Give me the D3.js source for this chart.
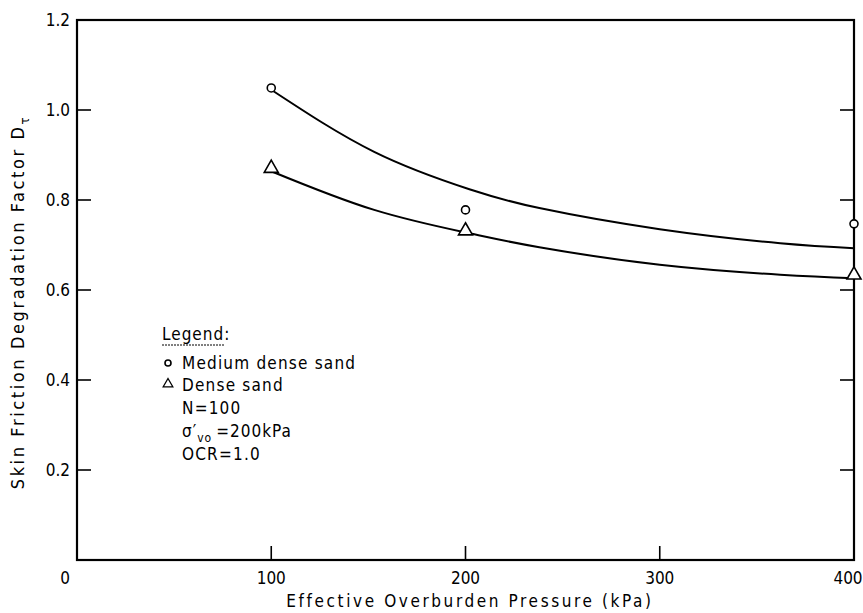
<!DOCTYPE html>
<html>
<head>
  <meta charset="utf-8">
  <title>Skin friction degradation factor</title>
  <script src="https://d3js.org/d3.v7.min.js"></script>
  <style>
    body { margin: 0; padding: 0; background: #fff; }
    text { font-family: "DejaVu Sans Condensed", "DejaVu Sans", sans-serif; fill: #000; }
  </style>
</head>
<body>
  <svg id="chart" width="863" height="613"></svg>
  <script>
    // measured points
    var pressure = [100, 200, 400];
    var mediumDense = [1.049, 0.778, 0.747];
    var dense = [0.866, 0.727, 0.629];

    // fitted curves
    var curveX = [100, 153, 202, 238, 300, 362, 400];
    var mediumCurve = [1.045, 0.907, 0.824, 0.782, 0.735, 0.704, 0.693];
    var denseCurve = [0.864, 0.778, 0.726, 0.695, 0.656, 0.634, 0.626];

    var xTicks = [0, 100, 200, 300, 400];
    var yTicks = [0.2, 0.4, 0.6, 0.8, 1.0, 1.2];

    var legendLines = ["Medium dense sand", "Dense sand", "N=100", "OCR=1.0"];

    var svg = d3.select("#chart");
    var plotL = 77, plotR = 854, plotT = 20, plotB = 560;

    var x = d3.scaleLinear().domain([0, 400]).range([plotL, plotR]);
    var y = d3.scaleLinear().domain([0, 1.2]).range([plotB, plotT]);

    //frame
    svg.append("rect")
      .attr("x", plotL).attr("y", plotT)
      .attr("width", plotR - plotL).attr("height", plotB - plotT)
      .attr("fill", "none").attr("stroke", "#000").attr("stroke-width", 2.2);

    //inward ticks
    var tickLen = 14;
    svg.selectAll(".xtick")
      .data(xTicks.filter(function (d) { return d > 0 && d < 400; }))
      .join("line")
      .attr("class", "xtick")
      .attr("x1", d => x(d)).attr("x2", d => x(d))
      .attr("y1", plotB).attr("y2", plotB - tickLen)
      .attr("stroke", "#000").attr("stroke-width", 1.6);

    var innerY = yTicks.filter(function (d) { return d < 1.2; });
    svg.selectAll(".ytickl")
      .data(innerY)
      .join("line")
      .attr("class", "ytickl")
      .attr("x1", plotL).attr("x2", plotL + tickLen)
      .attr("y1", d => y(d)).attr("y2", d => y(d))
      .attr("stroke", "#000").attr("stroke-width", 1.6);
    svg.selectAll(".ytickr")
      .data(innerY)
      .join("line")
      .attr("class", "ytickr")
      .attr("x1", plotR).attr("x2", plotR - tickLen)
      .attr("y1", d => y(d)).attr("y2", d => y(d))
      .attr("stroke", "#000").attr("stroke-width", 1.6);

    //tick labels
    svg.selectAll(".xlab")
      .data(xTicks)
      .join("text")
      .attr("class", "xlab")
      .attr("x", d => x(d) + (d === 0 ? -12 : d === 400 ? -6 : 0))
      .attr("y", plotB + 24)
      .attr("text-anchor", "middle")
      .attr("font-size", 17)
      .text(d => d);

    svg.selectAll(".ylab")
      .data(yTicks)
      .join("text")
      .attr("class", "ylab")
      .attr("x", plotL - 7)
      .attr("y", d => y(d) + 6)
      .attr("text-anchor", "end")
      .attr("font-size", 17)
      .text(d => d.toFixed(1));

    //axis titles
    svg.append("text")
      .attr("x", 470)
      .attr("y", 607)
      .attr("text-anchor", "middle")
      .attr("font-size", 17)
      .attr("letter-spacing", 2.6)
      .text("Effective Overburden Pressure (kPa)");

    var yt = svg.append("text")
      .attr("transform", "translate(24,302) rotate(-90)")
      .attr("text-anchor", "middle")
      .attr("font-size", 18)
      .attr("letter-spacing", 2.6);
    yt.append("tspan").text("Skin Friction Degradation Factor D");
    yt.append("tspan").attr("dy", 5).attr("font-size", 13).text("τ");

    //curves
    var line = d3.line()
      .x(function (d) { return x(d[0]); })
      .y(function (d) { return y(d[1]); })
      .curve(d3.curveNatural);

    [mediumCurve, denseCurve].forEach(function (c) {
      svg.append("path")
        .attr("d", line(curveX.map(function (v, i) { return [v, c[i]]; })))
        .attr("fill", "none")
        .attr("stroke", "#000")
        .attr("stroke-width", 2);
    });

    //points
    svg.selectAll(".circ")
      .data(pressure)
      .join("circle")
      .attr("class", "circ")
      .attr("cx", d => x(d))
      .attr("cy", (d, i) => y(mediumDense[i]))
      .attr("r", 4)
      .attr("fill", "#fff")
      .attr("stroke", "#000")
      .attr("stroke-width", 1.6);

    var tri = d3.symbol().type(d3.symbolTriangle).size(85);
    svg.selectAll(".tri")
      .data(pressure)
      .join("path")
      .attr("class", "tri")
      .attr("transform", (d, i) => "translate(" + x(d) + "," + (y(dense[i]) - 2) + ")")
      .attr("d", tri)
      .attr("fill", "#fff")
      .attr("stroke", "#000")
      .attr("stroke-width", 1.6);

    //legend
    var lg = svg.append("g").attr("transform", "translate(162,0)");
    lg.append("text")
      .attr("x", 0).attr("y", 340)
      .attr("font-size", 17)
      .attr("letter-spacing", 1)
      .text("Legend:");
    lg.append("line")
      .attr("x1", 0).attr("x2", 62)
      .attr("y1", 345).attr("y2", 345)
      .attr("stroke", "#000").attr("stroke-width", 1)
      .attr("stroke-dasharray", "2,1");

    lg.append("circle")
      .attr("cx", 6).attr("cy", 363)
      .attr("r", 3)
      .attr("fill", "none").attr("stroke", "#000").attr("stroke-width", 1.6);
    lg.append("path")
      .attr("transform", "translate(6,384)")
      .attr("d", d3.symbol().type(d3.symbolTriangle).size(40))
      .attr("fill", "none").attr("stroke", "#000").attr("stroke-width", 1.3);

    var rowY = [369, 391, 414, 460];
    lg.selectAll(".lgt")
      .data(legendLines)
      .join("text")
      .attr("class", "lgt")
      .attr("x", 20)
      .attr("y", (d, i) => rowY[i])
      .attr("font-size", 17)
      .attr("letter-spacing", 1.2)
      .text(d => d);

    var sig = lg.append("text")
      .attr("x", 20).attr("y", 437)
      .attr("font-size", 17)
      .attr("letter-spacing", 1);
    sig.append("tspan").text("σ′");
    sig.append("tspan").attr("dy", 5).attr("font-size", 12).text("vo");
    sig.append("tspan").attr("dx", 4).attr("dy", -5).text("=200kPa");
  </script>
</body>
</html>
